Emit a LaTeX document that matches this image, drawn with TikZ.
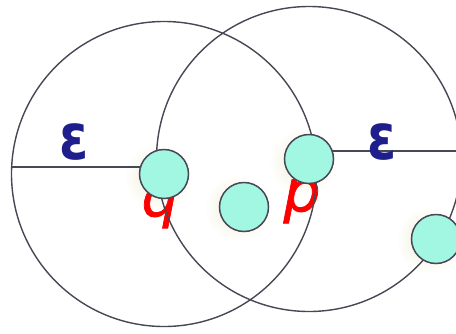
\documentclass[tikz,border=0pt]{standalone}
\usepackage{fontspec}
\setmainfont{DejaVu Sans}
\newfontfamily\epsfont{DejaVu Sans}
\newfontfamily\lblfont{DejaVu Sans}[FakeBold=1.3]
\definecolor{ptfill}{HTML}{A2F7E3}
\definecolor{ptline}{HTML}{474755}
\definecolor{epsblue}{HTML}{1E1E8C}
\definecolor{lblred}{HTML}{FF0000}
\definecolor{glow}{HTML}{EFEBD2}
\tikzset{
  pt/.style={circle, draw=ptline, fill=ptfill, line width=1.5pt, minimum size=49pt, inner sep=0pt},
  ring/.style={draw=ptline, line width=1.4pt},
  halo/.style={circle, inner sep=0pt, minimum size=68pt, inner color=glow, outer color=white},
  eps/.style={text=epsblue, font=\epsfont\bfseries\fontsize{64}{64}\selectfont, inner sep=0pt},
  lbl/.style={text=lblred, font=\lblfont\itshape\fontsize{58}{58}\selectfont, inner sep=0pt}
}
\begin{document}
\begin{tikzpicture}[x=1pt,y=-1pt]
\useasboundingbox (0,0) rectangle (456,333);
\clip (0,0) rectangle (456,333);
% soft glow behind the points
\node[halo] (hq) at (158,177) {};
\node[halo] (hp) at (303,162) {};
\node[halo] (hm) at (238,208) {};
\node[halo] (hr) at (430,240) {};
% labels (drawn below)
\node[lbl] (ql) at (160,206) {q};
\node[lbl] (pl) at (302,201) {p};
% epsilon neighbourhoods
\coordinate (qc) at (164,174);
\coordinate (pc) at (309,159);
\draw[ring] (qc) circle[radius=152.5];
\draw[ring] (pc) circle[radius=152.5];
\coordinate (le) at (11.5,167);
\coordinate (re) at (462,151);
\draw[ring] (le) -- (le -| qc);
\draw[ring] (re -| pc) -- (re);
% points
\node[pt] (q) at (qc) {};
\node[pt] (p) at (pc) {};
\node[pt] (m) at (244,207) {};
\node[pt] (r) at (436,239) {};
\node[eps,xscale=0.82] (e1) at (74,142) {ε};
\node[eps,xscale=0.82] (e2) at (382,142) {ε};
\end{tikzpicture}
\end{document}
